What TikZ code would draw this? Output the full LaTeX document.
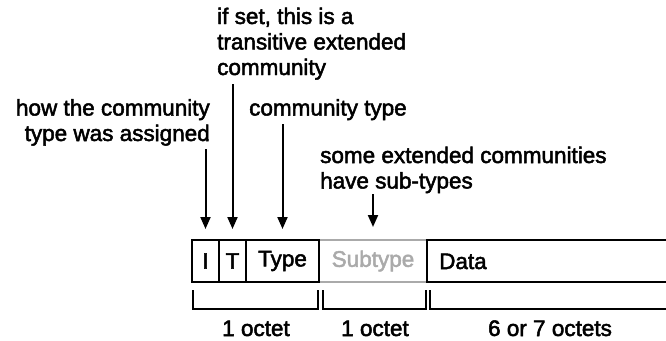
\documentclass[tikz,border=0pt]{standalone}
\usepackage{fontspec}
\setmainfont{Liberation Sans}[FakeBold=2.2]
\usetikzlibrary{arrows.meta}
\definecolor{fieldgray}{RGB}{170,170,170}
\tikzset{
  txt/.style={font=\fontsize{22.5}{26}\selectfont, inner sep=0pt},
  lbl/.style={txt, anchor=base west},
  lblr/.style={txt, anchor=base east},
  cell/.style={draw=black, line width=2pt, minimum height=42pt, inner sep=0pt,
               font=\fontsize{22.5}{26}\selectfont},
  graycell/.style={cell, draw=fieldgray, text=fieldgray},
  pointer/.style={line width=2pt, -{Triangle[length=12pt,width=10pt]}, shorten >=10pt},
  brace/.style={line width=2pt},
}
\begin{document}
\begin{tikzpicture}[x=1pt,y=-1pt]
  \useasboundingbox (0,0) rectangle (666,340);

  % header fields
  \node[graycell, minimum width=108pt] (sub) at (373,261) {Subtype};
  \node[cell, minimum width=27pt] (fi) at (205.5,261) {I};
  \node[cell, minimum width=27pt] (ft) at (232.5,261) {T};
  \node[cell, minimum width=73pt] (ftype) at (282.5,261) {Type};
  \node[cell, minimum width=300pt] (fdata) at (577,261) {};
  \node[txt, anchor=base west] (datatext) at (439,269) {Data};

  % annotations
  \node[lblr] (how1) at (210,115.5) {how the community};
  \node[lblr] (how2) at (210,141) {type was assigned};
  \node[lbl] (set1) at (217,24) {if set, this is a};
  \node[lbl] (set2) at (217,49.5) {transitive extended};
  \node[lbl] (set3) at (217,75) {community};
  \node[lbl] (typetxt) at (249,115.5) {community type};
  \node[lbl] (sub1) at (320,163) {some extended communities};
  \node[lbl] (sub2) at (320,188.5) {have sub-types};

  \coordinate (aI) at (205.5,149);
  \coordinate (aT) at (232.5,84);
  \coordinate (aType) at (282.5,124);
  \coordinate (aSub) at (373,194);
  \draw[pointer] (aI) -- (fi.north);
  \draw[pointer] (aT) -- (ft.north);
  \draw[pointer] (aType) -- (ftype.north);
  \draw[pointer, shorten >=12pt] (aSub) -- (sub.north);

  % octet brackets
  \draw[brace] (193,290) -- (193,309) -- (318,309) -- (318,290);
  \draw[brace] (323,290) -- (323,309) -- (426,309) -- (426,290);
  \draw[brace] (430,290) -- (430,309) -- (680,309);

  \node[txt, anchor=base] (o1) at (256,336) {1 octet};
  \node[txt, anchor=base] (o2) at (375,336) {1 octet};
  \node[txt, anchor=base] (o3) at (550,336) {6 or 7 octets};
\end{tikzpicture}
\end{document}
